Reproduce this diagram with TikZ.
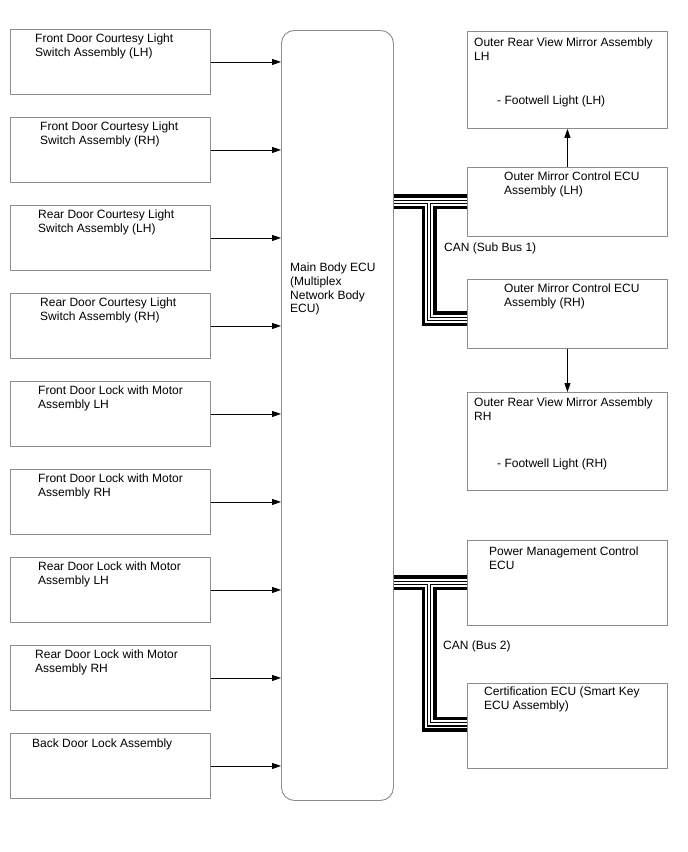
\documentclass[tikz,border=0pt]{standalone}
\usepackage{fontspec}
\setmainfont{Liberation Sans}
\usetikzlibrary{arrows.meta,calc}
\begin{document}
\begin{tikzpicture}[x=1pt,y=-1pt,
  box/.style={draw=black!45, line width=0.9pt, minimum width=200pt, minimum height=65pt, inner sep=0pt, anchor=north west},
  txt/.style={anchor=north west, inner sep=0pt, align=left, font=\fontsize{12}{14.5}\selectfont},
  arr/.style={line width=0.8pt, draw=black, -{Triangle[length=9pt,width=6pt]}},
  bus/.style={draw=white, line width=2pt,
    preaction={draw=black, line width=15pt},
    preaction={draw=white, line width=8pt},
    preaction={draw=black, line width=4.6pt}}]
\useasboundingbox[fill=white] (0,0) rectangle (688,852);

% left boxes
\node[box] (l1) at (10,29) {};
\node[box] (l2) at (10,117) {};
\node[box] (l3) at (10,205) {};
\node[box] (l4) at (10,293) {};
\node[box] (l5) at (10,381) {};
\node[box] (l6) at (10,469) {};
\node[box] (l7) at (10,557) {};
\node[box] (l8) at (10,645) {};
\node[box] (l9) at (10,733) {};

\node[txt] (t1) at (35,33.5) {Front Door Courtesy Light\\Switch Assembly (LH)};
\node[txt] (t2) at (40,121.5) {Front Door Courtesy Light\\Switch Assembly (RH)};
\node[txt] (t3) at (38,209.5) {Rear Door Courtesy Light\\Switch Assembly (LH)};
\node[txt] (t4) at (40,297.5) {Rear Door Courtesy Light\\Switch Assembly (RH)};
\node[txt] (t5) at (38,385.5) {Front Door Lock with Motor\\Assembly LH};
\node[txt] (t6) at (38,473.5) {Front Door Lock with Motor\\Assembly RH};
\node[txt] (t7) at (38,561.5) {Rear Door Lock with Motor\\Assembly LH};
\node[txt] (t8) at (35,649.5) {Rear Door Lock with Motor\\Assembly RH};
\node[txt] (t9) at (32,738.5) {Back Door Lock Assembly};

% main ECU
\node[draw=black!45, line width=0.9pt, rounded corners=13pt, minimum width=112pt, minimum height=770pt, inner sep=0pt, anchor=north west] (ecu) at (281,30) {};
\node[txt, font=\fontsize{12}{13.8}\selectfont] (ecut) at (290,262.5) {Main Body ECU\\(Multiplex\\Network Body\\ECU)};

\foreach \i in {1,...,9} \draw[arr] (l\i.east) -- (l\i.east -| ecu.west);

% right boxes
\node[box, minimum height=97pt] (mirL) at (467,31) {};
\node[box, minimum height=69pt] (ctl1) at (467,167) {};
\node[box, minimum height=69pt] (ctl2) at (467,279) {};
\node[box, minimum height=98pt] (mirR) at (467,392) {};
\node[box, minimum height=85pt] (pm) at (467,540) {};
\node[box, minimum height=85pt] (cert) at (467,683) {};

\node[txt] (mirLt) at (474,37.5) {Outer Rear View Mirror Assembly\\LH};
\node[txt] (mirLf) at (497,95.5) {- Footwell Light (LH)};
\node[txt] (ctl1t) at (504,171.5) {Outer Mirror Control ECU\\Assembly (LH)};
\node[txt] (ctl2t) at (504,283.5) {Outer Mirror Control ECU\\Assembly (RH)};
\node[txt] (mirRt) at (474,397.5) {Outer Rear View Mirror Assembly\\RH};
\node[txt] (mirRf) at (497,458.5) {- Footwell Light (RH)};
\node[txt] (pmt) at (489,546.5) {Power Management Control\\ECU};
\node[txt] (certt) at (484,686.5) {Certification ECU (Smart Key\\ECU Assembly)};

\draw[arr] (ctl1.north) -- (mirL.south);
\draw[arr] (ctl2.south) -- (mirR.north);

% CAN buses
\coordinate (j1) at (429,201.5);
\coordinate (j2) at (429,582.5);
\draw[bus] (ecu.east |- ctl1.west) -- (ctl1.west) (j1) |- ($(ctl2.west)+(0,5)$);
\draw[bus] (ecu.east |- pm.west) -- (pm.west) (j2) |- ($(cert.west)+(0,-1.5)$);

\node[txt] (can1) at (444,242.5) {CAN (Sub Bus 1)};
\node[txt] (can2) at (443,640.5) {CAN (Bus 2)};
\end{tikzpicture}
\end{document}
